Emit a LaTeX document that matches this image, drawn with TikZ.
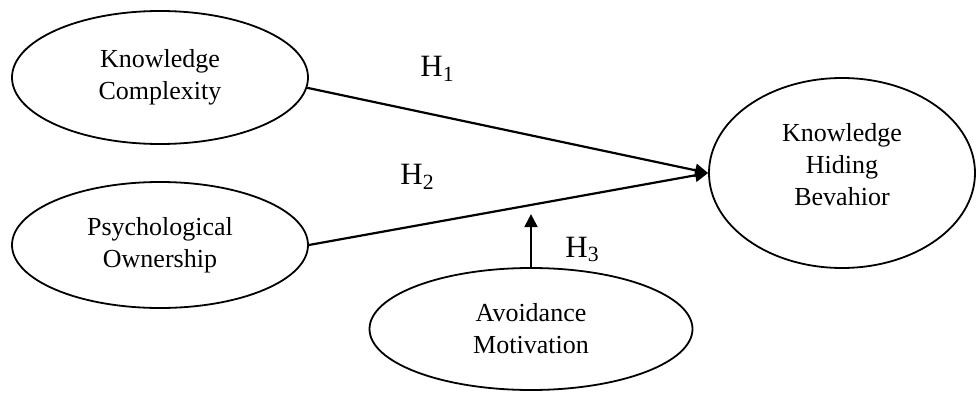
\documentclass[tikz,border=0pt]{standalone}
\usepackage{fontspec}
\setmainfont{Liberation Serif}
\usetikzlibrary{arrows.meta,shapes.geometric,calc}
\tikzset{
  >={Triangle[length=6.5pt,width=6.5pt]},
  construct/.style={shape=ellipse, draw=black, line width=0.9pt, inner sep=0pt, align=center, font=\fontsize{13}{16}\selectfont},
  hyp/.style={->, line width=1.1pt, draw=black},
  hyplabel/.style={anchor=base west, inner sep=0pt, font=\fontsize{15.5}{18}\selectfont}
}

\begin{document}
\begin{tikzpicture}[x=0.5pt,y=0.5pt]
  \useasboundingbox (0,0) rectangle (976,392);

  \node[construct, minimum width=148pt, minimum height=66.5pt] (complexity) at (160,314.5) {Knowledge\\Complexity};
  \node[construct, minimum width=148pt, minimum height=63pt] (ownership) at (160,147) {Psychological\\Ownership};
  \node[construct, minimum width=161.5pt, minimum height=61pt] (motivation) at (531,63) {Avoidance\\Motivation};
  \node[construct, minimum width=133pt, minimum height=95pt, text depth=9pt] (hiding) at (842,219) {Knowledge\\Hiding\\Bevahior};

  % direct paths and the moderating path
  \coordinate (modtip) at ($(motivation.north)+(0,53)$);
  \draw[hyp] (complexity.-4) -- (hiding.west);
  \draw[hyp] (ownership.east) -- (hiding.west);
  \draw[hyp] (motivation.north) -- (modtip);

  \node[hyplabel] (h1) at (420,315) {H\textsubscript{1}};
  \node[hyplabel] (h2) at (400,207) {H\textsubscript{2}};
  \node[hyplabel] (h3) at (565,135) {H\textsubscript{3}};
\end{tikzpicture}
\end{document}
